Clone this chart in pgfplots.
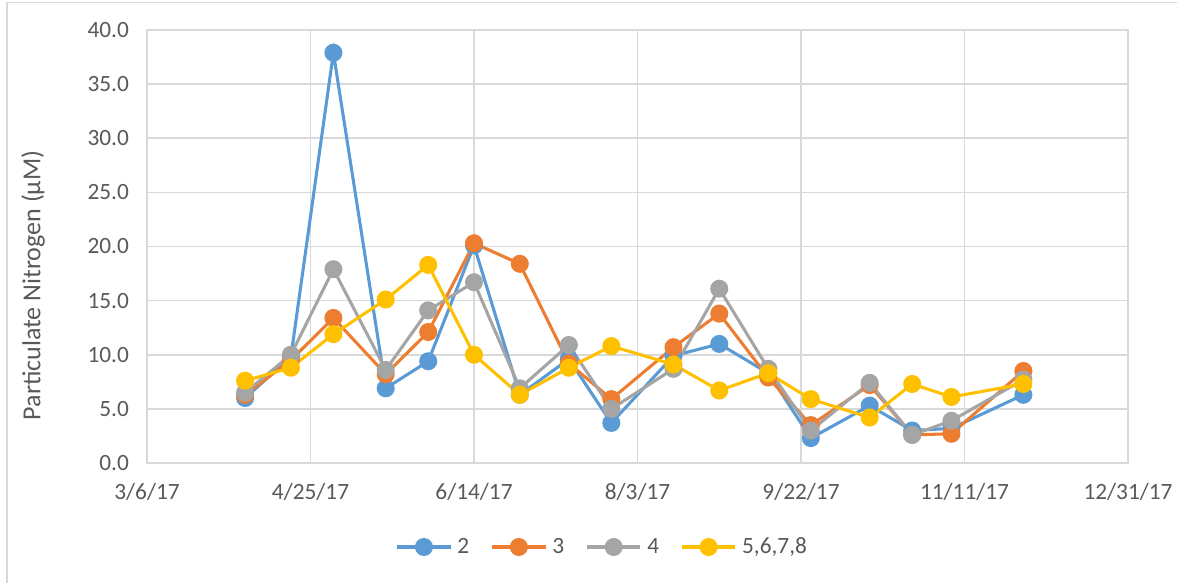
\documentclass[border=0pt]{standalone}
\usepackage{pgfplots}
\pgfplotsset{compat=1.18}
\usepackage{fontspec}
\setmainfont{Carlito}
\definecolor{sblue}{HTML}{5B9BD5}
\definecolor{sorange}{HTML}{ED7D31}
\definecolor{sgray}{HTML}{A5A5A5}
\definecolor{syellow}{HTML}{FFC000}
\definecolor{gridc}{HTML}{D9D9D9}
\definecolor{txt}{HTML}{595959}
\begin{document}
\begin{tikzpicture}
\useasboundingbox (0,0) rectangle (882.75pt,436.5pt);
\draw[gridc, line width=1.2pt] (5.25pt,-5pt) -- (5.25pt,434.5pt) -- (890pt,434.5pt);
\begin{axis}[
  at={(110.25pt,89.25pt)}, anchor=south west,
  scale only axis, width=735.75pt, height=324.75pt,
  xmin=0, xmax=300, ymin=0, ymax=40,
  xtick={0,50,100,150,200,250,300},
  xticklabels={3/6/17,4/25/17,6/14/17,8/3/17,9/22/17,11/11/17,12/31/17},
  ytick={0,5,...,40},
  yticklabel={\pgfmathprintnumber[fixed,fixed zerofill,precision=1]{\tick}},
  /pgf/number format/assume math mode=true,
  grid=major,
  major grid style={gridc, line width=1.2pt},
  axis line style={draw=gridc, line width=1.2pt},
  major tick length=0pt,
  tick label style={font=\fontsize{17.5}{21}\selectfont, text=txt},
  xticklabel style={yshift=-12pt},
  yticklabel style={xshift=-10pt},
  ylabel={Particulate Nitrogen (µM)},
  ylabel style={font=\fontsize{19.5}{23}\selectfont, text=txt, at={(axis description cs:-0.1162,0.41)}, anchor=center},
  every axis plot/.append style={line width=2.3pt, mark=*, mark size=5.6pt},
  legend columns=4,
  legend style={draw=none, fill=none, at={(0.4638,-0.194)}, anchor=center,
    font=\fontsize{17.5}{21}\selectfont, text=txt, inner xsep=0pt,
    nodes={inner xsep=1pt},
    /tikz/every odd column/.append style={column sep=3pt},
    /tikz/every even column/.append style={column sep=15pt}},
  legend image code/.code={\draw[#1, mark repeat=2, mark phase=2] plot coordinates {(0pt,0pt) (20pt,0pt) (40pt,0pt)};},
]
\addplot[color=sblue, mark options={fill=sblue, draw=sblue}] coordinates {
(30,6.0) (44,9.8) (57,37.9) (73,6.9) (86,9.4) (100,20.1) (114,6.3) (129,9.6) (142,3.7) (161,9.9) (175,11.0) (190,8.3) (203,2.3) (221,5.3) (234,3.0) (246,3.2) (268,6.3)};
\addplot[color=sorange, mark options={fill=sorange, draw=sorange}] coordinates {
(30,6.3) (44,9.5) (57,13.4) (73,8.2) (86,12.1) (100,20.3) (114,18.4) (129,9.2) (142,5.9) (161,10.7) (175,13.8) (190,7.9) (203,3.5) (221,7.2) (234,2.6) (246,2.7) (268,8.5)};
\addplot[color=sgray, mark options={fill=sgray, draw=sgray}] coordinates {
(30,6.5) (44,10.0) (57,17.9) (73,8.6) (86,14.1) (100,16.7) (114,6.9) (129,10.9) (142,5.0) (161,8.7) (175,16.1) (190,8.7) (203,3.0) (221,7.4) (234,2.6) (246,3.9) (268,7.7)};
\addplot[color=syellow, mark options={fill=syellow, draw=syellow}] coordinates {
(30,7.6) (44,8.8) (57,11.9) (73,15.1) (86,18.3) (100,10.0) (114,6.3) (129,8.8) (142,10.8) (161,9.1) (175,6.7) (190,8.3) (203,5.9) (221,4.2) (234,7.3) (246,6.1) (268,7.3)};
\legend{2,3,4,{5,6,7,8}}
\end{axis}
\end{tikzpicture}
\end{document}
